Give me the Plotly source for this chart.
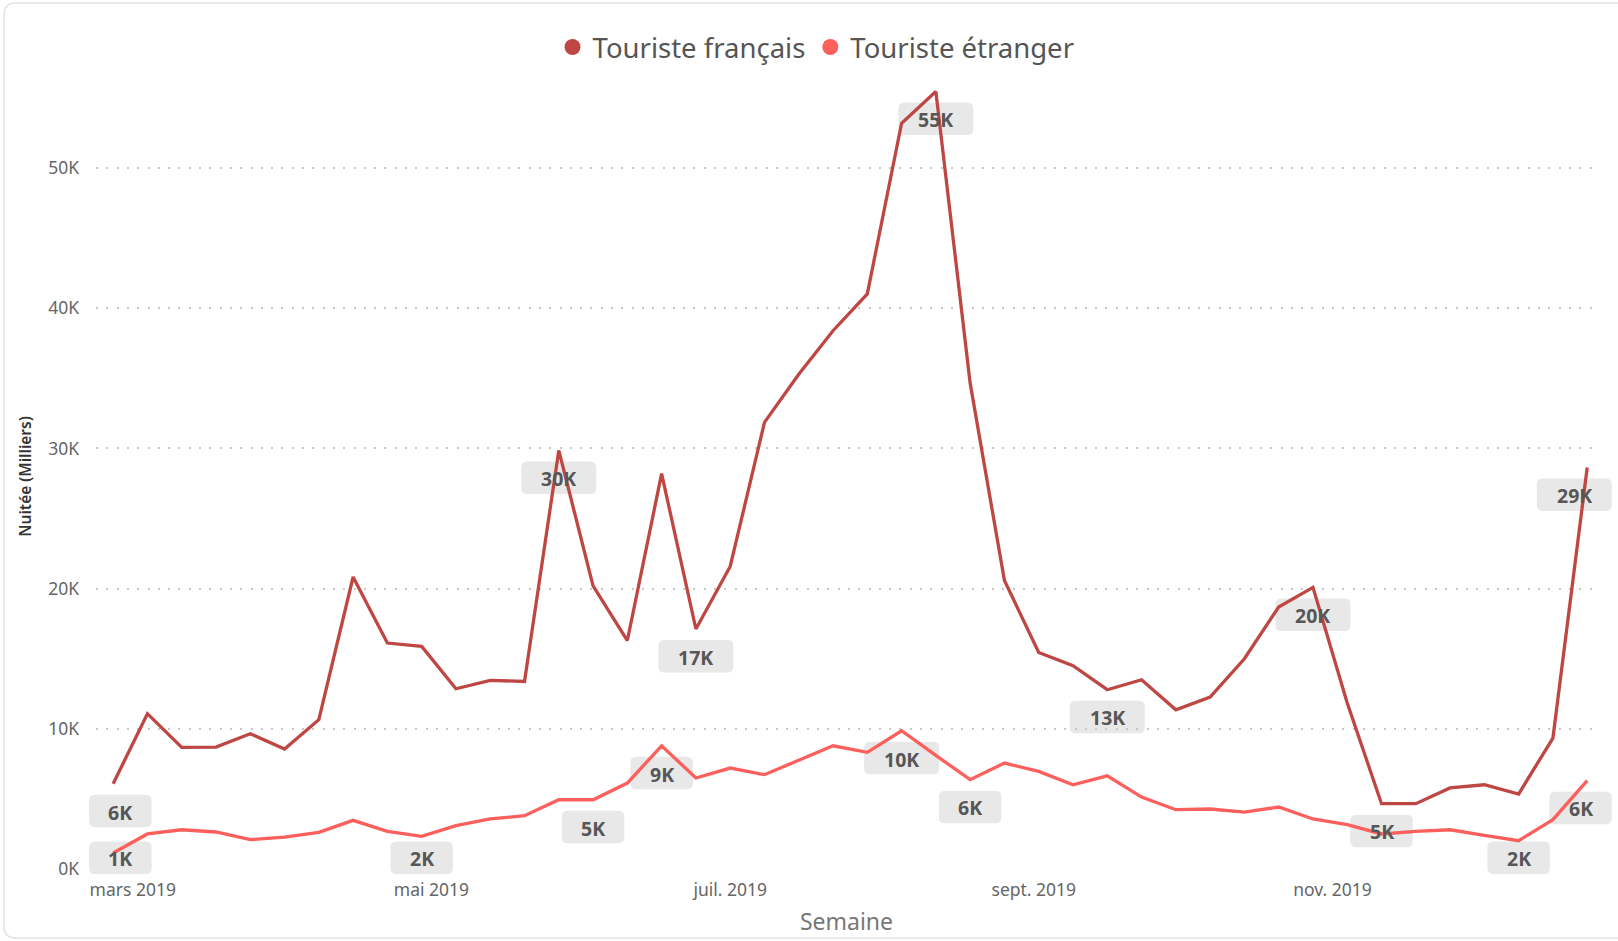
import pandas as pd
import plotly.graph_objects as go

# ---------------- data ----------------
week_start = "2019-02-25"
n_weeks = 44
semaines = pd.date_range(week_start, periods=n_weeks, freq="7D")

touriste_francais = [
    6080, 11080, 8680, 8700, 9650, 8560, 10650, 20830, 16120, 15880,
    12860, 13450, 13380, 29860, 20200, 16300, 28200, 17120, 21580, 31860,
    35300, 38400, 41030, 53200, 55460, 34660, 20580, 15450, 14500, 12790,
    13500, 11360, 12270, 15000, 18690, 20090, 11840, 4660, 4660, 5780,
    6010, 5350, 9340, 28640,
]
touriste_etranger = [
    1140, 2500, 2800, 2640, 2090, 2280, 2610, 3470, 2680, 2330,
    3090, 3570, 3800, 4940, 4940, 6130, 8790, 6490, 7200, 6730,
    7760, 8790, 8320, 9860, 8100, 6370, 7560, 6960, 6010, 6650,
    5130, 4230, 4280, 4060, 4420, 3570, 3160, 2500, 2680, 2800,
    2400, 2020, 3520, 6300,
]

y_tick_vals = [0, 10000, 20000, 30000, 40000, 50000]
y_tick_text = ["0K", "10K", "20K", "30K", "40K", "50K"]
x_tick_vals = ["2019-03-01", "2019-05-01", "2019-07-01", "2019-09-01", "2019-11-01"]
x_tick_text = ["mars 2019", "mai 2019", "juil. 2019", "sept. 2019", "nov. 2019"]

series_names = ["Touriste français", "Touriste étranger"]

# data labels: (series, week index, vertical placement, horizontal clamp)
data_labels = [
    ("fr", 0, "below", "left"),
    ("fr", 13, "below", None),
    ("fr", 17, "below", None),
    ("fr", 24, "below", None),
    ("fr", 29, "below", None),
    ("fr", 35, "below", None),
    ("fr", 37, "below", None),
    ("fr", 43, "below", "right"),
    ("et", 0, "bottom", "left"),
    ("et", 9, "bottom", None),
    ("et", 14, "below", None),
    ("et", 16, "below", None),
    ("et", 23, "below", None),
    ("et", 25, "below", None),
    ("et", 41, "bottom", None),
    ("et", 43, "below", "right"),
]

# ---------------- style ----------------
FONT = "Noto Sans"
COL_FR = "#BE4744"
COL_ET = "#FD5F5C"
W, H = 1618, 941
ML, MR, MT, MB = 96, 21, 84, 72

fig = go.Figure()

values = {"fr": touriste_francais, "et": touriste_etranger}
colors = {"fr": COL_FR, "et": COL_ET}

for key, name in zip(["fr", "et"], series_names):
    fig.add_trace(go.Scatter(
        x=semaines, y=values[key], mode="lines", name=name,
        line=dict(color=colors[key], width=3.3), showlegend=False,
        hoverinfo="skip",
    ))
# legend entries (circle markers)
for key, name in zip(["fr", "et"], series_names):
    fig.add_trace(go.Scatter(
        x=[None], y=[None], mode="markers", name=name,
        marker=dict(color=colors[key], size=17, symbol="circle"),
        showlegend=True,
    ))


def rrect(xl, xr, yt, yb, r=6):
    return (f"M {xl + r},{yt} L {xr - r},{yt} Q {xr},{yt} {xr},{yt - r} "
            f"L {xr},{yb + r} Q {xr},{yb} {xr - r},{yb} L {xl + r},{yb} "
            f"Q {xl},{yb} {xl},{yb + r} L {xl},{yt - r} Q {xl},{yt} {xl + r},{yt} Z")


BOX_H = 32.5
GAP = 11
for key, idx, vpos, hpos in data_labels:
    v = values[key][idx]
    txt = f"{int(round(v / 1000))}K"
    w = 62.5 if len(txt) == 2 else 75
    if hpos == "left":
        xref, xa = "paper", 0
        xl = -6.9
        xr = xl + w
    elif hpos == "right":
        xref, xa = "paper", 1
        xr = 14.8
        xl = xr - w
    else:
        xref, xa = "x", semaines[idx].strftime("%Y-%m-%d")
        xl, xr = -w / 2, w / 2
    if vpos == "bottom":
        yref, ya = "paper", 0
        yt, yb = 27.4, 27.4 - BOX_H
    else:
        yref, ya = "y", v
        yt, yb = -GAP, -GAP - BOX_H
    fig.add_shape(
        type="path", xref=xref, yref=yref,
        xsizemode="pixel", ysizemode="pixel", xanchor=xa, yanchor=ya,
        path=rrect(xl, xr, yt, yb), fillcolor="#E8E8E8",
        line=dict(width=0), layer="below",
    )
    fig.add_annotation(
        x=xa, y=ya, xref=xref, yref=yref, text=f"<b>{txt}</b>", showarrow=False,
        xanchor="center", yanchor="middle",
        xshift=(xl + xr) / 2, yshift=(yt + yb) / 2 - 1,
        font=dict(family=FONT, size=19.5, color="#575757"),
    )

# visual border (rounded)
fig.add_shape(
    type="path", xref="paper", yref="paper", xsizemode="pixel", ysizemode="pixel",
    xanchor=0, yanchor=0,
    path=rrect(4 - ML, 1640 - ML, (H - MB) - 3, (H - MB) - 938, r=12),
    line=dict(color="#E2E2E2", width=1.5), fillcolor="rgba(0,0,0,0)", layer="below",
)

fig.update_layout(
    width=W, height=H,
    margin=dict(l=ML, r=MR, t=MT, b=MB, pad=0, autoexpand=False),
    paper_bgcolor="white", plot_bgcolor="white",
    font=dict(family=FONT, color="#666666"),
    legend=dict(
        orientation="h", x=0.4797, xanchor="center", y=1.047, yanchor="middle",
        font=dict(family=FONT, size=27.5, color="#555555"),
        itemwidth=30, tracegroupgap=0, bgcolor="rgba(0,0,0,0)",
    ),
    showlegend=True,
    hovermode=False,
)

fig.update_xaxes(
    type="date", range=["2019-02-21 12:00", "2019-12-25 00:00"],
    tickvals=x_tick_vals, ticktext=x_tick_text, ticks="",
    showgrid=False, zeroline=False, showline=False, automargin=False,
    tickfont=dict(family=FONT, size=17.5, color="#666666"),
    ticklabelstandoff=8,
    title=dict(text="Semaine", font=dict(family=FONT, size=23, color="#777777"), standoff=14),
)
fig.update_yaxes(
    range=[0, 56000], tickvals=y_tick_vals, ticktext=y_tick_text, ticks="",
    showgrid=True, gridcolor="#C8C8C8", gridwidth=1.5, griddash="2px,8.3px",
    zeroline=False, showline=False, automargin=False,
    tickfont=dict(family=FONT, size=17.5, color="#666666"),
    ticklabelstandoff=16,
    title=dict(text="Nuitée (Milliers)", font=dict(family=FONT, size=15.5, color="#333333", weight=600),
               standoff=12),
)

fig.write_html(
    "out.html",
    config={"displayModeBar": False, "responsive": False},
    post_script=(
        "document.documentElement.style.margin='0';"
        "document.documentElement.style.padding='0';"
        "document.documentElement.style.overflow='hidden';"
        "document.body.style.margin='0';"
        "document.body.style.padding='0';"
        "document.body.style.overflow='hidden';"
    ),
)
